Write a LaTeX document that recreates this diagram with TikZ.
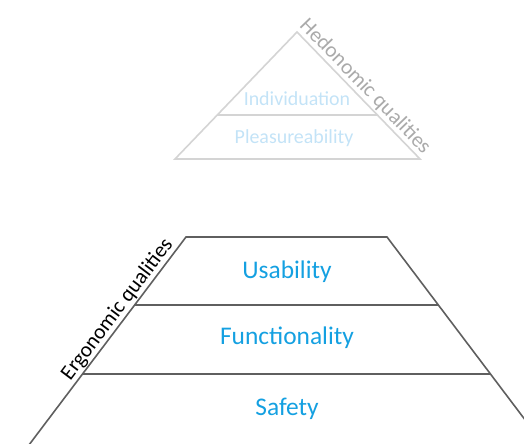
\documentclass[tikz,border=0pt]{standalone}
\usepackage{fontspec}
\setmainfont{Carlito}
\usetikzlibrary{
    calc
}

\definecolor{ergoline}{RGB}{95,95,95}
\definecolor{ergotext}{RGB}{20,160,225}
\definecolor{hedoline}{RGB}{212,212,212}
\definecolor{hedotext}{RGB}{195,227,247}
\definecolor{hedolabel}{RGB}{170,170,170}

\begin{document}
\begin{tikzpicture}[
    x=1bp,
    y=-1bp,
    ergo/.style={
        draw=ergoline,
        line width=1.6bp
    },
    hedo/.style={
        draw=hedoline,
        line width=1.6bp
    },
    layer/.style={
        text=ergotext,
        font=\fontsize{25.5}{30}\selectfont,
        inner sep=0pt
    },
    toplayer/.style={
        text=hedotext,
        font=\fontsize{20}{24}\selectfont,
        inner sep=0pt
    },
    side/.style={
        font=\fontsize{21.5}{26}\selectfont,
        sloped,
        above,
        inner sep=1.5bp
    }
]

\clip (0,0) rectangle (524,444);

%--------------------------------------------------
% lower pyramid (cut off by the frame)
\coordinate (tl) at (186,237);
\coordinate (tr) at (387,237);
\coordinate (bl) at (17.6,460);
\coordinate (br) at (555.4,460);

\draw[ergo] (bl) -- (tl) -- (tr) -- (br);
\draw[ergo] (134.7,305) -- (438.3,305);
\draw[ergo] (82.6,374) -- (490.4,374);

\path (bl) -- (tl)
    node[side,pos=0.645] (ergo) {Ergonomic qualities};

\node[layer] (usability) at (287,272) {Usability};
\node[layer] (functionality) at (287,338) {Functionality};
\node[layer] (safety) at (287,409) {Safety};

%--------------------------------------------------
% upper pyramid
\coordinate (apex) at (297,32);
\coordinate (hl) at (175,159);
\coordinate (hr) at (420,159);

\draw[hedo] (hl) -- (apex) -- (hr) -- cycle;
\draw[hedo] ($(apex)!0.654!(hl)$) -- ($(apex)!0.654!(hr)$);

\path (apex) -- (hr)
    node[side,pos=0.49,text=hedolabel] (hedo) {Hedonomic qualities};

\node[toplayer] (individuation) at (297,99) {Individuation};
\node[toplayer] (pleasure) at (294,138) {Pleasureability};

\end{tikzpicture}
\end{document}
